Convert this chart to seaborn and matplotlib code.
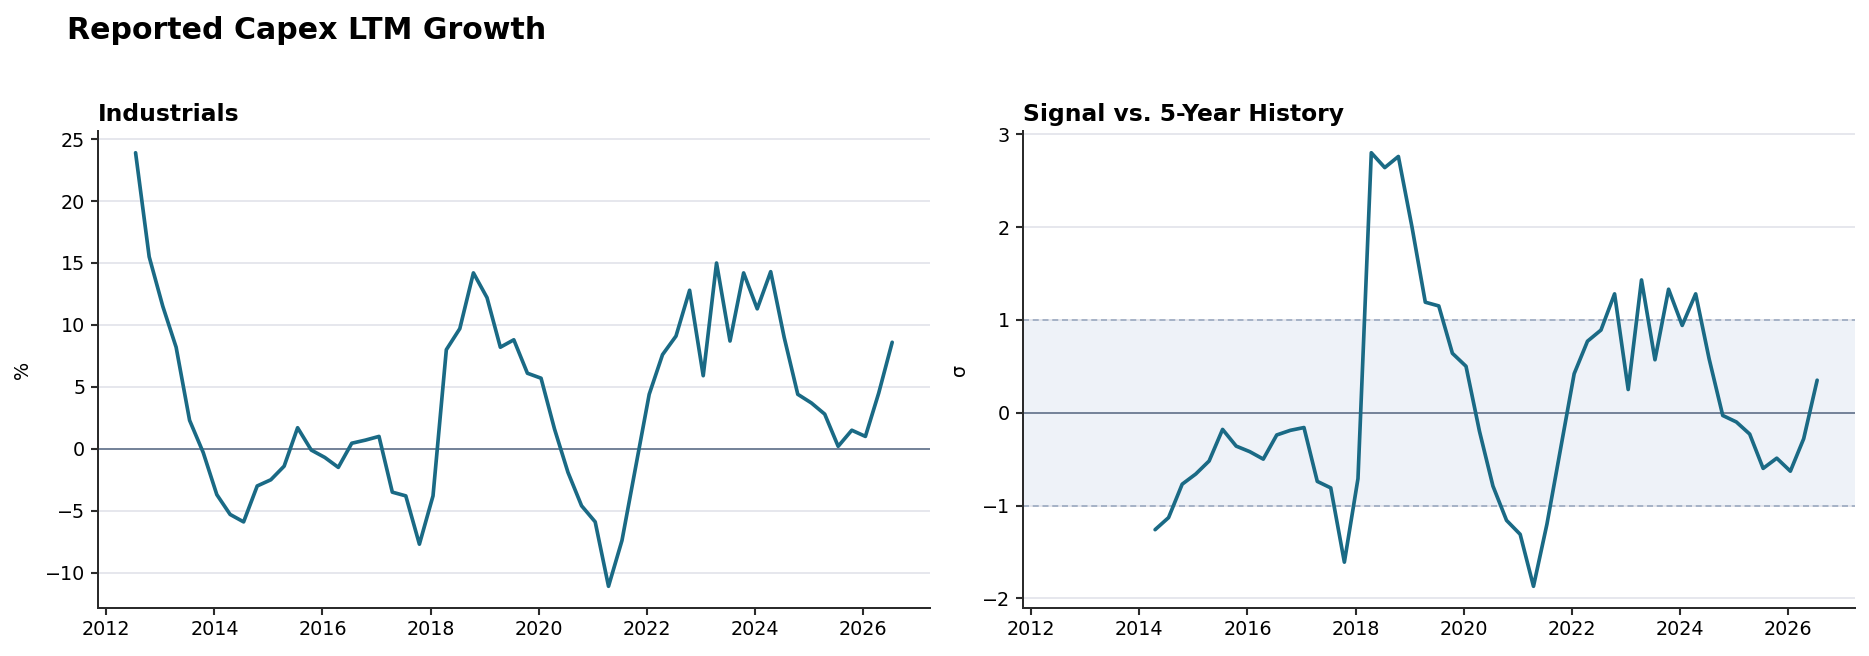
import numpy as np
import pandas as pd
import matplotlib
matplotlib.use("Agg")
import matplotlib.pyplot as plt
import matplotlib.dates as mdates
import seaborn as sns

# ---- data (quarterly) ----
start_date = "2012-07-17"
n_periods = 57

growth_pct = [23.9, 15.5, 11.5, 8.2, 2.3, -0.3, -3.7, -5.3, -5.9, -3.0,
              -2.5, -1.4, 1.7, -0.1, -0.7, -1.5, 0.45, 0.7, 1.0, -3.5,
              -3.8, -7.7, -3.8, 8.0, 9.7, 14.2, 12.2, 8.2, 8.8, 6.1,
              5.7, 1.6, -1.9, -4.6, -5.9, -11.1, -7.4, -1.5, 4.4, 7.6,
              9.1, 12.8, 5.9, 15.0, 8.7, 14.2, 11.3, 14.3, 9.0, 4.4,
              3.7, 2.8, 0.2, 1.5, 1.0, 4.5, 8.6]

signal_sigma = [np.nan] * 7 + [
    -1.26, -1.13, -0.77, -0.66, -0.52, -0.18, -0.36, -0.42, -0.50, -0.24,
    -0.19, -0.16, -0.74, -0.81, -1.61, -0.71, 2.80, 2.64, 2.76, 2.00,
    1.19, 1.15, 0.64, 0.50, -0.20, -0.79, -1.16, -1.31, -1.87, -1.20,
    -0.39, 0.42, 0.77, 0.89, 1.28, 0.25, 1.43, 0.57, 1.33, 0.94,
    1.28, 0.58, -0.03, -0.10, -0.23, -0.60, -0.49, -0.63, -0.28, 0.35]

fig_title = "Reported Capex LTM Growth"
left_title = "Industrials"
right_title = "Signal vs. 5-Year History"
left_ylabel = "%"
right_ylabel = "σ"
band_low, band_high = -1, 1

dates = pd.date_range(start=start_date, periods=n_periods, freq=pd.DateOffset(months=3))
df = pd.DataFrame({"date": dates, "growth": growth_pct, "signal": signal_sigma})

# ---- style ----
LINE = "#1a6a85"
ZERO = "#76849a"
GRID = "#e1e3ea"
BAND = "#eef2f8"
DASH = "#93a3bb"
SPINE = "#2b2b2b"

sns.set_theme(style="ticks")
plt.rcParams.update({
    "font.family": ["DejaVu Sans"],
    "text.color": "black",
    "axes.labelcolor": "black",
    "axes.titlecolor": "black",
    "axes.edgecolor": SPINE,
    "axes.linewidth": 1.2,
    "xtick.color": SPINE,
    "ytick.color": SPINE,
    "xtick.labelcolor": "black",
    "ytick.labelcolor": "black",
    "xtick.labelsize": 11.5,
    "ytick.labelsize": 11.5,
    "xtick.major.size": 4,
    "ytick.major.size": 4,
})

dpi = 120
fig = plt.figure(figsize=(1869 / dpi, 656 / dpi), dpi=dpi)
axL = fig.add_axes([0.0523, 0.0732, 0.4453, 0.727])
axR = fig.add_axes([0.5472, 0.0732, 0.4453, 0.727], sharex=axL)

# Left panel
axL.grid(axis="y", color=GRID, linewidth=1.0)
axL.set_axisbelow(True)
axL.axhline(0, color=ZERO, linewidth=1.2, zorder=1)
sns.lineplot(data=df, x="date", y="growth", ax=axL, color=LINE, linewidth=2.2, zorder=3)
axL.set_title(left_title, loc="left", fontsize=14, fontweight="bold", pad=6)
axL.set_ylabel(left_ylabel, fontsize=11.5, labelpad=8)
axL.set_xlabel("")

# Right panel
axR.grid(axis="y", color=GRID, linewidth=1.0)
axR.set_axisbelow(True)
axR.axhspan(band_low, band_high, color=BAND, zorder=0, linewidth=0)
axR.axhline(band_high, color=DASH, linewidth=0.9, linestyle=(0, (4, 2.5)), zorder=1)
axR.axhline(band_low, color=DASH, linewidth=0.9, linestyle=(0, (4, 2.5)), zorder=1)
axR.axhline(0, color=ZERO, linewidth=1.2, zorder=1)
sns.lineplot(data=df, x="date", y="signal", ax=axR, color=LINE, linewidth=2.2, zorder=3)
axR.set_title(right_title, loc="left", fontsize=14, fontweight="bold", pad=6)
axR.set_ylabel(right_ylabel, fontsize=11.5, labelpad=8)
axR.set_xlabel("")
axR.set_yticks([-2, -1, 0, 1, 2, 3])

for ax in (axL, axR):
    sns.despine(ax=ax)
    ax.tick_params(axis="x", labelbottom=True)

axL.xaxis.set_major_locator(mdates.YearLocator(2))
axL.xaxis.set_major_formatter(mdates.DateFormatter("%Y"))

fig.text(0.036, 0.975, fig_title, fontsize=18, fontweight="bold", ha="left", va="top")

fig.savefig("out.png", dpi=dpi)
